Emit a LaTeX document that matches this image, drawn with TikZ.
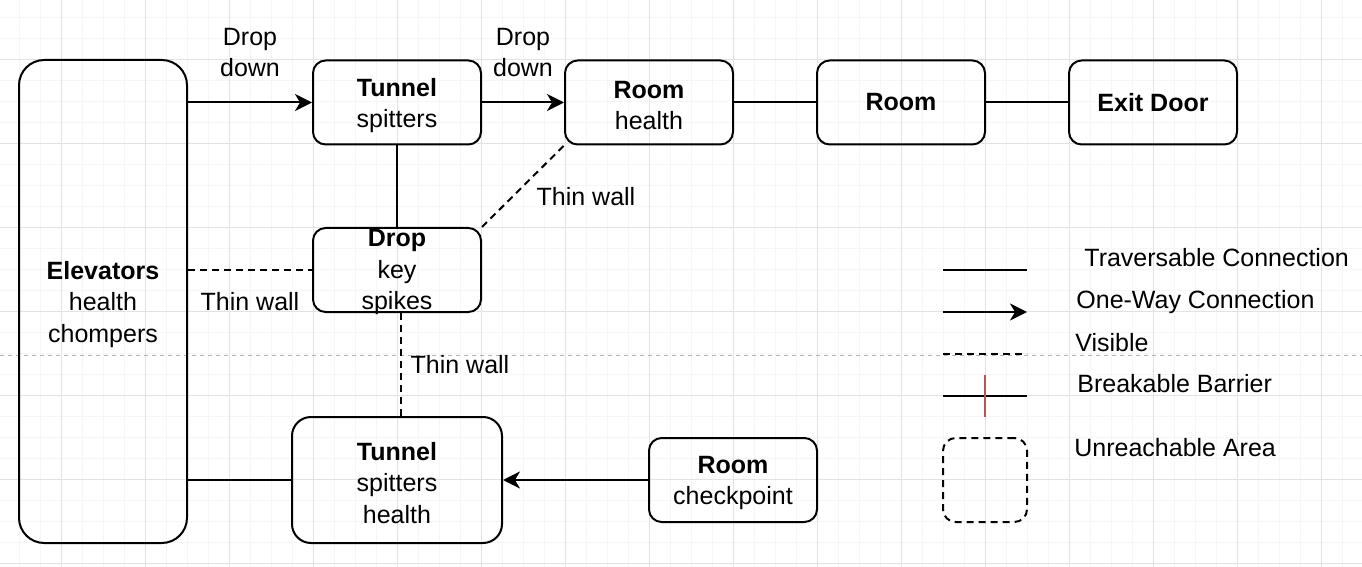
\documentclass[tikz,border=0pt]{standalone}
\usepackage{fontspec}
\setmainfont{Liberation Sans}
\usetikzlibrary{arrows.meta}
\definecolor{gridminor}{RGB}{246,246,246}
\definecolor{gridmajor}{RGB}{226,226,226}
\definecolor{barrierred}{RGB}{184,84,80}

\begin{document}
\begin{tikzpicture}[x=0.5pt,y=-0.5pt,>={Stealth[length=8.5pt,width=8.5pt,inset=2.5pt]},
    box/.style={draw,line width=1pt,rounded corners=6.3pt,minimum width=84pt,minimum height=42pt,
        inner sep=0pt,align=center,font=\fontsize{12.5}{15.6}\selectfont},
    txt/.style={align=center,inner sep=0pt,font=\fontsize{12.5}{15.6}\selectfont},
    legtxt/.style={anchor=base west,inner sep=0pt,font=\fontsize{12.5}{15.6}\selectfont},
    link/.style={line width=1pt},
    wall/.style={line width=1pt,dash pattern=on 3.5pt off 2.5pt}]
\useasboundingbox (0,0) rectangle (1362,567);
\fill[white] (0,0) rectangle (1362,567);
% background grid
\foreach \x in {19.5,40.5,...,1362}
    \draw[gridminor,line width=0.5pt] (\x,0) -- (\x,567);
\foreach \y in {17.7,38.7,...,567}
    \draw[gridminor,line width=0.5pt] (0,\y) -- (1362,\y);
\foreach \x in {61.5,145.5,...,1362}
    \draw[gridmajor,line width=0.5pt] (\x,0) -- (\x,567);
\foreach \y in {59.7,143.7,...,567}
    \draw[gridmajor,line width=0.5pt] (0,\y) -- (1362,\y);
\draw[gray!60,line width=0.4pt,dash pattern=on 2pt off 2pt] (0,355) -- (1362,355);

% rooms
\node[box,minimum height=241.5pt,rounded corners=12.6pt] (elev) at (103,301.5) {};
\node[txt] (elevt) at (103,304.5) {\textbf{Elevators}\\health\\chompers};
\node[box] (tun1) at (397,102.5) {};
\node[txt] (tun1t) at (397,105.5) {\textbf{Tunnel}\\spitters};
\node[box] (roomh) at (649,102.5) {};
\node[txt] (roomht) at (649,105.5) {\textbf{Room}\\health};
\node[box] (room) at (901,102.5) {\textbf{Room}};
\node[box] (exit) at (1153,102.5) {\textbf{Exit Door}};
\node[box] (drop) at (397,270) {};
\node[txt] (dropt) at (397,272) {\textbf{Drop}\\key\\spikes};
\node[box,minimum width=105pt,minimum height=63pt,rounded corners=9.5pt] (tun2) at (397,480) {};
\node[txt] (tun2t) at (397,483) {\textbf{Tunnel}\\spitters\\health};
\node[box] (roomc) at (733,480) {};
\node[txt] (roomct) at (733,483) {\textbf{Room}\\checkpoint};

% connections
\draw[link,->] (elev.east |- tun1) -- (tun1.west);
\draw[link,->] (tun1) -- (roomh);
\draw[link] (roomh) -- (room);
\draw[link] (room) -- (exit);
\draw[link] (tun1) -- (drop);
\draw[wall] (drop.north east) -- (roomh.south west);
\draw[wall] (elev.east |- drop) -- (drop.west);
\draw[wall] ([xshift=2pt]drop.south) -- ([xshift=2pt]tun2.north);
\draw[link] (elev.east |- tun2) -- (tun2.west);
\draw[link,->] (roomc) -- (tun2);

\node[txt] (dd1) at (250,52.5) {Drop\\down};
\node[txt] (dd2) at (523,52.5) {Drop\\down};
\node[txt] (tw1) at (586,197) {Thin wall};
\node[txt] (tw2) at (250,302) {Thin wall};
\node[txt] (tw3) at (460,365) {Thin wall};

% legend
\foreach \i/\y in {1/270,2/312,3/354,4/396} {
    \coordinate (la\i) at (943,\y);
    \coordinate (lb\i) at (1027,\y);
}
\coordinate (bt) at (985,375);
\coordinate (bb) at (985,417);
\draw[link] (la1) -- (lb1);
\draw[link,->] (la2) -- (lb2);
\draw[wall] (la3) -- (lb3);
\draw[link] (la4) -- (lb4);
\draw[barrierred,line width=1pt] (bt) -- (bb);
\node[box,dash pattern=on 3.5pt off 2.5pt,minimum width=42pt,minimum height=42pt] (unreach) at (985,480) {};
\node[legtxt] (ltrav) at (1084,267) {Traversable Connection};
\node[legtxt] (loneway) at (1076,308) {One-Way Connection};
\node[legtxt] (lvis) at (1075,351) {Visible};
\node[legtxt] (lbreak) at (1077,393) {Breakable Barrier};
\node[legtxt] (lunreach) at (1074,456) {Unreachable Area};
\end{tikzpicture}
\end{document}
